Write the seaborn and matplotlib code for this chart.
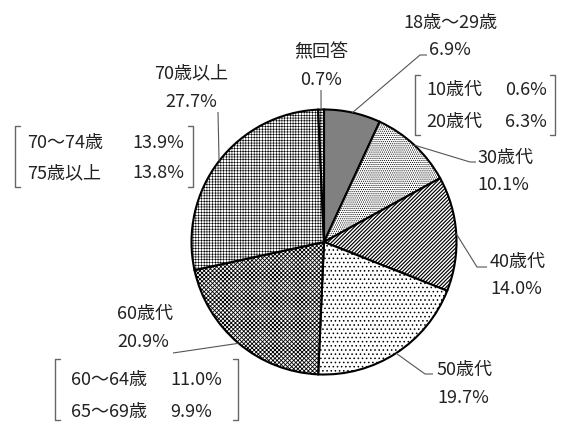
import matplotlib
matplotlib.use('Agg')
import matplotlib.pyplot as plt
import seaborn as sns
import numpy as np

# ---- data ----
categories = ['18歳～29歳', '30歳代', '40歳代', '50歳代', '60歳代', '70歳以上', '無回答']
values = [6.9, 10.1, 14.0, 19.7, 20.9, 27.7, 0.7]
pct_labels = ['6.9%', '10.1%', '14.0%', '19.7%', '20.9%', '27.7%', '0.7%']
sub_young_labels = ['10歳代', '20歳代']
sub_young_values = ['0.6%', '6.3%']
sub_60_labels = ['60～64歳', '65～69歳']
sub_60_values = ['11.0%', '9.9%']
sub_70_labels = ['70～74歳', '75歳以上']
sub_70_values = ['13.9%', '13.8%']

# ---- style ----
sns.set_theme(style='white')
plt.rcParams['font.family'] = ['Noto Sans CJK JP', 'DejaVu Sans']
plt.rcParams['hatch.linewidth'] = 0.8
plt.rcParams['hatch.color'] = 'black'

W, H = 575, 442
FS = 13
TXT = '#222222'
LINE = '#555555'


def Y(y):
    return H - y


fig = plt.figure(figsize=(W / 100, H / 100), dpi=100)
ax = fig.add_axes([0, 0, 1, 1])

cx, cy, R = 324, 242, 132.5
faces = ['#808080', 'white', 'white', 'white', 'white', 'white', 'white']
hatches = [None, '.' * 8, '/' * 9, '.' * 4, 'x' * 8, '+' * 6, '+' * 6]
hlw = [0.8, 0.5, 0.85, 0.6, 0.6, 0.4, 0.5]

wedges, _ = ax.pie(values, startangle=90, counterclock=False,
                   center=(cx, Y(cy)), radius=R,
                   colors=faces,
                   wedgeprops=dict(edgecolor='black', linewidth=1.5))
for w, h, lw in zip(wedges, hatches, hlw):
    if h:
        w.set_hatch(h)
    if hasattr(w, 'set_hatch_linewidth'):
        w.set_hatch_linewidth(lw)

ax.set_xlim(0, W)
ax.set_ylim(0, H)
ax.set_aspect('auto')
ax.axis('off')

# ---- leader lines: from wedge mid-angle on the rim to label ----
leader_pts = [
    [(420, 55), (427, 55)],
    [(470, 162), (476, 162)],
    [(477, 267), (487, 267)],
    [(425, 374), (433, 374)],
    [(173, 353)],
    [(218, 112)],
    [(321, 90)],
]
for w, pts in zip(wedges, leader_pts):
    mid = np.deg2rad((w.theta1 + w.theta2) / 2)
    ex, ey = cx + R * np.cos(mid), Y(cy) + R * np.sin(mid)
    xs = [ex] + [p[0] for p in pts]
    ys = [ey] + [Y(p[1]) for p in pts]
    ax.plot(xs, ys, color=LINE, lw=0.8, solid_capstyle='butt')

# ---- labels ----
label_pos = [
    (450, 23, 50, 'center'),
    (477, 158, 185, 'left'),
    (490, 262, 289, 'left'),
    (437, 370, 398, 'left'),
    (117, 314, 342, 'left'),
    (191, 73, 102, 'center'),
    (321, 52, 80, 'center'),
]
for cat, pct, (x, y1, y2, ha) in zip(categories, pct_labels, label_pos):
    ax.text(x, Y(y1), cat, ha=ha, va='center', fontsize=FS, color=TXT)
    ax.text(x, Y(y2), pct, ha=ha, va='center', fontsize=FS, color=TXT)


def bracket(x0, x1, y0, y1, tick=5):
    ax.plot([x0 + tick, x0, x0, x0 + tick], [Y(y0), Y(y0), Y(y1), Y(y1)],
            color='#666666', lw=1.0)
    ax.plot([x1 - tick, x1, x1, x1 - tick], [Y(y0), Y(y0), Y(y1), Y(y1)],
            color='#666666', lw=1.0)


# 10/20 bracket
bracket(415, 555, 75, 135)
for lab, val, yy in zip(sub_young_labels, sub_young_values, [90, 122]):
    ax.text(426, Y(yy), lab, ha='left', va='center', fontsize=FS, color=TXT)
    ax.text(547, Y(yy), val, ha='right', va='center', fontsize=FS, color=TXT)

# 70+ bracket
bracket(15, 193, 126, 187)
for lab, val, yy in zip(sub_70_labels, sub_70_values, [143, 173]):
    ax.text(27, Y(yy), lab, ha='left', va='center', fontsize=FS, color=TXT)
    ax.text(184, Y(yy), val, ha='right', va='center', fontsize=FS, color=TXT)

# 60s bracket
bracket(55, 238, 359, 420)
for lab, val, yy in zip(sub_60_labels, sub_60_values, [380, 412]):
    ax.text(71, Y(yy), lab, ha='left', va='center', fontsize=FS, color=TXT)
    ax.text(170, Y(yy), val, ha='left', va='center', fontsize=FS, color=TXT)

fig.savefig('out.png', dpi=100, facecolor='white')
